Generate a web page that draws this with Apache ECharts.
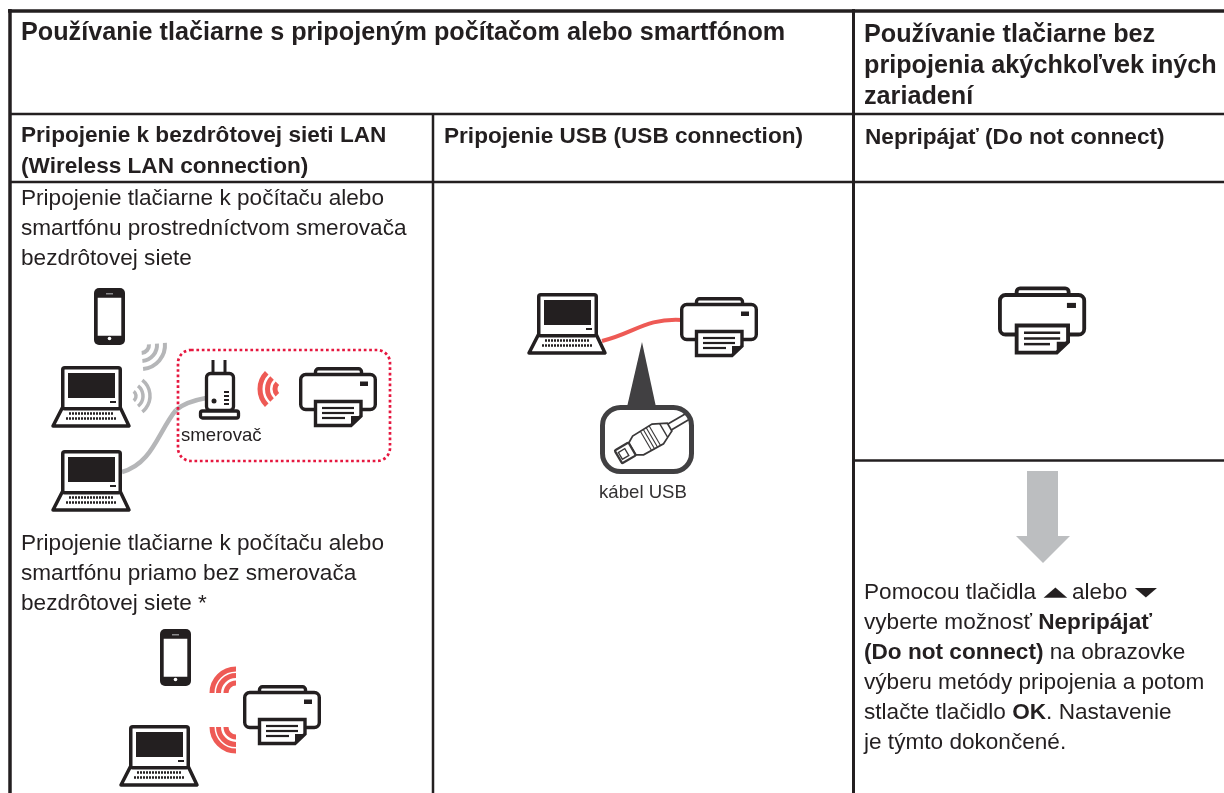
<!DOCTYPE html>
<html>
<head>
<meta charset="utf-8">
<style>
  html, body { margin: 0; padding: 0; background: #fff; }
  #ChartDom { width: 1224px; height: 793px; }
</style>
</head>
<body>
<div id="ChartDom"></div>
<script src="https://cdn.jsdelivr.net/npm/echarts@6/dist/echarts.min.js"></script>
<script>
const headLeft = ["Používanie tlačiarne s pripojeným počítačom alebo smartfónom"]
const headRight = ["Používanie tlačiarne bez", "pripojenia akýchkoľvek iných", "zariadení"]
const subWifi = ["Pripojenie k bezdrôtovej sieti LAN", "(Wireless LAN connection)"]
const subUsb = ["Pripojenie USB (USB connection)"]
const subNone = ["Nepripájať (Do not connect)"]
const bodyRouter = ["Pripojenie tlačiarne k počítaču alebo", "smartfónu prostredníctvom smerovača", "bezdrôtovej siete"]
const bodyDirect = ["Pripojenie tlačiarne k počítaču alebo", "smartfónu priamo bez smerovača", "bezdrôtovej siete *"]
const bodySteps = [
  "vyberte možnosť {b|Nepripájať}",
  "{b|(Do not connect)} na obrazovke",
  "výberu metódy pripojenia a potom",
  "stlačte tlačidlo {b|OK}. Nastavenie",
  "je týmto dokončené.",
]
const stepsFirst = ["Pomocou tlačidla", "▲", "alebo", "▼"]
const routerLabel = "smerovač"
const cableLabel = "kábel USB"

const INK = "#231f20"
const GREY = "#b5b6b8"
const RED = "#ee5a55"
const DARK = "#3a3839"
const FONT = "'Liberation Sans'"

function line(x1, y1, x2, y2, lineWidth, color) {
  return { type: "line", shape: { x1, y1, x2, y2 }, style: { stroke: color || INK, lineWidth } }
}
function box(x, y, width, height, r, style) {
  return { type: "rect", shape: { x, y, width, height, r }, style }
}
function poly(points, style) {
  return { type: "polygon", shape: { points }, style }
}
function curve(x1, y1, cpx1, cpy1, cpx2, cpy2, x2, y2, color, lineWidth) {
  return {
    type: "bezierCurve",
    shape: { x1, y1, cpx1, cpy1, cpx2, cpy2, x2, y2 },
    style: { stroke: color, lineWidth, fill: null },
  }
}
function text(x, y, str, font, extra) {
  return {
    type: "text", x, y,
    style: Object.assign({ text: str, font, fill: INK, textVerticalAlign: "middle" }, extra),
  }
}
function lines(x, y, gap, list, font) {
  return list.map((str, i) => text(x, y + i * gap, str, font))
}
function waves(cx, cy, radii, from, to, color, lineWidth) {
  return radii.map(r => ({
    type: "arc",
    shape: { cx, cy, r, startAngle: from * Math.PI / 180, endAngle: to * Math.PI / 180, clockwise: true },
    style: { stroke: color, lineWidth, fill: null },
  }))
}

function laptop(x, y) {
  return {
    type: "group", x, y,
    children: [
      poly([[1.75, 41], [59, 41], [68, 60], [-8, 60]], { fill: "#fff", stroke: INK, lineWidth: 3.5, lineJoin: "round" }),
      box(1.75, 1.75, 57.5, 41, 2, { fill: "#fff", stroke: INK, lineWidth: 3.5 }),
      box(7, 7, 47, 25, 0, { fill: INK }),
      box(49, 35, 6, 2, 0, { fill: INK }),
      { type: "line", shape: { x1: 8, y1: 47.5, x2: 53, y2: 47.5 }, style: { stroke: INK, lineWidth: 2.6, lineDash: [2, 1] } },
      { type: "line", shape: { x1: 5, y1: 52.5, x2: 56, y2: 52.5 }, style: { stroke: INK, lineWidth: 2.6, lineDash: [2, 1] } },
    ],
  }
}
function phone(x, y) {
  return {
    type: "group", x, y,
    children: [
      box(0, 0, 31, 57, 5, { fill: INK }),
      box(3.7, 9.7, 23.6, 38, 0, { fill: "#fff" }),
      box(12, 5, 7, 1.5, 0, { fill: "#8a8a8c" }),
      { type: "circle", shape: { cx: 15.5, cy: 50.5, r: 1.8 }, style: { fill: "#fff" } },
    ],
  }
}
function printer(x, y, scale) {
  return {
    type: "group", x, y, scaleX: scale || 1, scaleY: scale || 1,
    children: [
      box(16.5, 1.7, 46, 10, 3, { fill: "#fff", stroke: INK, lineWidth: 3.4 }),
      box(1.7, 7.5, 74.6, 35, 5, { fill: "#fff", stroke: INK, lineWidth: 3.4 }),
      box(61, 14.5, 8, 4.5, 0, { fill: INK }),
      poly([[16.5, 34.5], [62, 34.5], [62, 49], [52, 58.5], [16.5, 58.5]], { fill: "#fff", stroke: INK, lineWidth: 3.4 }),
      poly([[52, 58.5], [62, 49], [52, 49]], { fill: INK }),
      line(23, 41, 55, 41, 2.2),
      line(23, 46, 55, 46, 2.2),
      line(23, 51, 46, 51, 2.2),
    ],
  }
}
function router(x, y) {
  return {
    type: "group", x, y,
    children: [
      line(14, 0, 14, 14, 3),
      line(26, 0, 26, 14, 3),
      box(7.5, 13.5, 27, 37, 4, { fill: "#fff", stroke: INK, lineWidth: 3.3 }),
      box(1.5, 51, 38, 7, 2, { fill: "#fff", stroke: INK, lineWidth: 3.3 }),
      { type: "circle", shape: { cx: 15, cy: 41, r: 2.5 }, style: { fill: INK } },
      box(25, 31, 5, 2, 0, { fill: INK }),
      box(25, 35, 5, 2, 0, { fill: INK }),
      box(25, 39, 5, 2, 0, { fill: INK }),
      box(25, 43, 5, 2, 0, { fill: INK }),
    ],
  }
}
function usbPlug(x, y) {
  const s = { fill: "#fff", stroke: DARK, lineWidth: 1.5 }
  return {
    type: "group", x, y, rotation: 0.53, scaleX: 1.14, scaleY: 1.14,
    children: [
      line(26, -3, 44, -3, 1.5, DARK),
      line(26, 3, 44, 3, 1.5, DARK),
      poly([[-12, -6], [-6, -9.5], [14, -10], [20, -7], [26, -4], [26, 4], [20, 7], [14, 10], [-6, 9.5], [-12, 6]], s),
      line(2, -10, 2, 10, 1, DARK),
      line(5, -10, 5, 10, 1, DARK),
      line(8, -10, 8, 10, 1, DARK),
      line(11, -10, 11, 10, 1, DARK),
      line(20, -7, 20, 7, 1.2, DARK),
      box(-26, -6.5, 14, 13, 1, { fill: "#fff", stroke: DARK, lineWidth: 2 }),
      box(-24, -3.5, 6.5, 7, 0, { fill: "#fff", stroke: DARK, lineWidth: 1.2 }),
    ],
  }
}

const H1 = "bold 25.2px " + FONT
const H2 = "bold 22.6px " + FONT
const BODY = "22.6px " + FONT
const SMALL = "18.6px " + FONT

const elements = [
  // table rules
  line(8, 11, 1224, 11, 3.5),
  line(10, 9, 10, 793, 3.5),
  line(10, 114, 1224, 114, 2.5),
  line(10, 182, 1224, 182, 2.5),
  line(433, 114, 433, 793, 2.5),
  line(853.5, 9, 853.5, 793, 3),
  line(853, 460.5, 1224, 460.5, 2.5),

  // header texts
  ...lines(21, 33, 0, headLeft, H1),
  ...lines(864, 35, 31, headRight, H1),
  ...lines(21, 135.5, 31, subWifi, H2),
  ...lines(444, 137, 0, subUsb, H2),
  ...lines(865, 138, 0, subNone, H2),
  ...lines(21, 199, 30, bodyRouter, BODY),
  ...lines(21, 544, 30, bodyDirect, BODY),

  // router diagram
  curve(122, 472, 152, 464, 158, 432, 176, 410, GREY, 4.5),
  curve(176, 410, 183, 404, 195, 400, 206, 398, GREY, 4.5),
  ...waves(141, 345, [8, 16, 24], -5, 85, GREY, 4),
  ...waves(130, 396, [6, 13, 20], -52, 52, GREY, 3.5),
  phone(94, 288),
  laptop(61, 366),
  laptop(61, 450),
  box(178, 350, 212, 111, 13, { fill: null, stroke: "#e6173f", lineWidth: 2.7, lineDash: [2.7, 2.7] }),
  router(199, 360),
  ...waves(283, 389, [8, 15.5, 23], 135, 225, RED, 5),
  printer(299, 367),
  text(181, 436, routerLabel, SMALL),

  // direct diagram
  phone(160, 629),
  laptop(129, 725),
  ...waves(236, 693, [10, 17.5, 24], 180, 270, RED, 5),
  ...waves(236, 727, [10, 17.5, 24], 90, 180, RED, 5),
  printer(243, 685),

  // usb diagram
  curve(602, 341, 635, 333, 645, 318, 682, 320, RED, 4),
  laptop(537, 293),
  printer(680, 297),
  poly([[642, 342], [627, 407], [656, 407]], { fill: "#414042" }),
  box(602.5, 407.5, 89, 64, 18, { fill: "#fff", stroke: null }),
  usbPlug(644, 442),
  box(602.5, 407.5, 89, 64, 18, { fill: null, stroke: "#414042", lineWidth: 5 }),
  text(643, 493, cableLabel, SMALL, { textAlign: "center", fill: "#333132" }),

  // no-connection column
  printer(998, 286.5, 1.13),
  poly([[1027, 471], [1058, 471], [1058, 536], [1070, 536], [1043, 563], [1016, 536], [1027, 536]], { fill: "#bcbec0" }),
  text(864, 593, stepsFirst[0], BODY),
  Object.assign(text(1055.5, 592.5, stepsFirst[1], "31px 'DejaVu Sans'", { textAlign: "center" }), { scaleY: 0.43 }),
  text(1072, 593, stepsFirst[2], BODY),
  Object.assign(text(1146, 592.5, stepsFirst[3], "29px 'DejaVu Sans'", { textAlign: "center" }), { scaleY: 0.43 }),
  ...bodySteps.map((str, i) => text(864, 623 + i * 30, str, BODY, {
    rich: { b: { font: H2, fill: INK } },
  })),
]

const chartDom = document.getElementById("ChartDom")
const myChart = echarts.init(chartDom)
myChart.setOption({
  backgroundColor: "#fff",
  animation: false,
  graphic: { elements },
})
</script>
</body>
</html>
